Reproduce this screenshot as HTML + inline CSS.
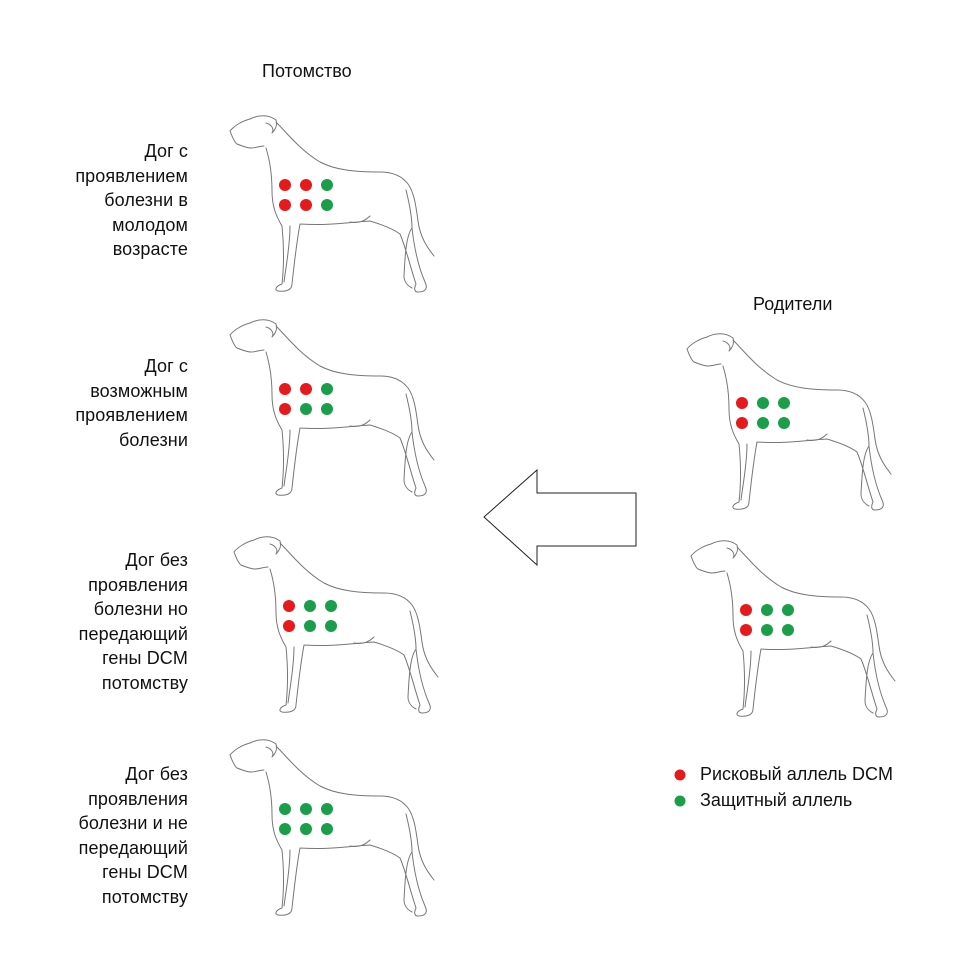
<!DOCTYPE html>
<html><head><meta charset="utf-8"><style>
body{margin:0;background:#fff;width:976px;height:967px;overflow:hidden;position:relative;font-family:"Liberation Sans","DejaVu Sans",sans-serif;color:#111}
.t{position:absolute;font-size:18px;line-height:24.5px;text-align:right;right:788px;letter-spacing:0.1px}
.h{position:absolute;font-size:18px}
svg{position:absolute;left:0;top:0}
</style></head><body>
<svg width="976" height="967" viewBox="0 0 976 967">
<defs>
<g id="dog" fill="none" stroke="#777" stroke-width="1" stroke-linejoin="round" stroke-linecap="round">
<path d="M10,25 C14,20 22,15 30,13 C38,9 48,8 56,14 C58,20 54,25 52,27 C55,22 50,18 46,17 M10,25 C12,30 14,36 17,38 C22,40 28,42 31,42 C36,42 40,40 44,40 M56,16 C66,26 80,44 100,56 C115,64 135,66 160,66 C172,66 182,70 188,78 C194,86 196,100 198,115 C200,130 206,140 214,150 M186,84 C190,100 192,112 192,122 C194,140 198,160 205,176 C208,182 206,186 198,186 C194,186 194,182 196,178 C190,160 186,142 180,128 C172,122 160,118 150,115 C130,116 110,120 80,118 M192,122 C186,130 185,150 184,170 C184,176 188,180 192,182 M80,118 C76,140 74,160 72,178 C72,184 66,186 58,185 C54,184 56,180 62,178 C64,160 64,140 62,120 C56,110 52,100 52,85 C52,70 50,55 46,42 M70,120 C70,140 66,160 64,176 M130,116 C140,118 146,114 150,110"/>
</g>
</defs>
<g transform="translate(220,106)"><use href="#dog"/>
<circle cx="65" cy="79" r="6" fill="#e41a1c"/><circle cx="86" cy="79" r="6" fill="#e41a1c"/><circle cx="107" cy="79" r="6" fill="#1a9e4a"/>
<circle cx="65" cy="99" r="6" fill="#e41a1c"/><circle cx="86" cy="99" r="6" fill="#e41a1c"/><circle cx="107" cy="99" r="6" fill="#1a9e4a"/></g>
<g transform="translate(220,310)"><use href="#dog"/>
<circle cx="65" cy="79" r="6" fill="#e41a1c"/><circle cx="86" cy="79" r="6" fill="#e41a1c"/><circle cx="107" cy="79" r="6" fill="#1a9e4a"/>
<circle cx="65" cy="99" r="6" fill="#e41a1c"/><circle cx="86" cy="99" r="6" fill="#1a9e4a"/><circle cx="107" cy="99" r="6" fill="#1a9e4a"/></g>
<g transform="translate(224,527)"><use href="#dog"/>
<circle cx="65" cy="79" r="6" fill="#e41a1c"/><circle cx="86" cy="79" r="6" fill="#1a9e4a"/><circle cx="107" cy="79" r="6" fill="#1a9e4a"/>
<circle cx="65" cy="99" r="6" fill="#e41a1c"/><circle cx="86" cy="99" r="6" fill="#1a9e4a"/><circle cx="107" cy="99" r="6" fill="#1a9e4a"/></g>
<g transform="translate(220,730)"><use href="#dog"/>
<circle cx="65" cy="79" r="6" fill="#1a9e4a"/><circle cx="86" cy="79" r="6" fill="#1a9e4a"/><circle cx="107" cy="79" r="6" fill="#1a9e4a"/>
<circle cx="65" cy="99" r="6" fill="#1a9e4a"/><circle cx="86" cy="99" r="6" fill="#1a9e4a"/><circle cx="107" cy="99" r="6" fill="#1a9e4a"/></g>
<g transform="translate(677,324)"><use href="#dog"/>
<circle cx="65" cy="79" r="6" fill="#e41a1c"/><circle cx="86" cy="79" r="6" fill="#1a9e4a"/><circle cx="107" cy="79" r="6" fill="#1a9e4a"/>
<circle cx="65" cy="99" r="6" fill="#e41a1c"/><circle cx="86" cy="99" r="6" fill="#1a9e4a"/><circle cx="107" cy="99" r="6" fill="#1a9e4a"/></g>
<g transform="translate(681,531)"><use href="#dog"/>
<circle cx="65" cy="79" r="6" fill="#e41a1c"/><circle cx="86" cy="79" r="6" fill="#1a9e4a"/><circle cx="107" cy="79" r="6" fill="#1a9e4a"/>
<circle cx="65" cy="99" r="6" fill="#e41a1c"/><circle cx="86" cy="99" r="6" fill="#1a9e4a"/><circle cx="107" cy="99" r="6" fill="#1a9e4a"/></g>
<polygon points="484,517 537,470 537,493 636,493 636,546 537,546 537,565" fill="#fff" stroke="#222" stroke-width="1"/>
<circle cx="680" cy="775" r="5.5" fill="#e41a1c"/>
<circle cx="680" cy="801" r="5.5" fill="#1a9e4a"/>
</svg>
<div class="h" style="left:262px;top:61px">Потомство</div>
<div class="h" style="left:753px;top:294px">Родители</div>
<div class="h" style="left:700px;top:764px">Рисковый аллель DCM</div>
<div class="h" style="left:700px;top:790px">Защитный аллель</div>
<div class="t" style="top:139px">Дог с<br>проявлением<br>болезни в<br>молодом<br>возрасте</div>
<div class="t" style="top:354px">Дог с<br>возможным<br>проявлением<br>болезни</div>
<div class="t" style="top:548px">Дог без<br>проявления<br>болезни но<br>передающий<br>гены DCM<br>потомству</div>
<div class="t" style="top:762px">Дог без<br>проявления<br>болезни и не<br>передающий<br>гены DCM<br>потомству</div>
</body></html>
